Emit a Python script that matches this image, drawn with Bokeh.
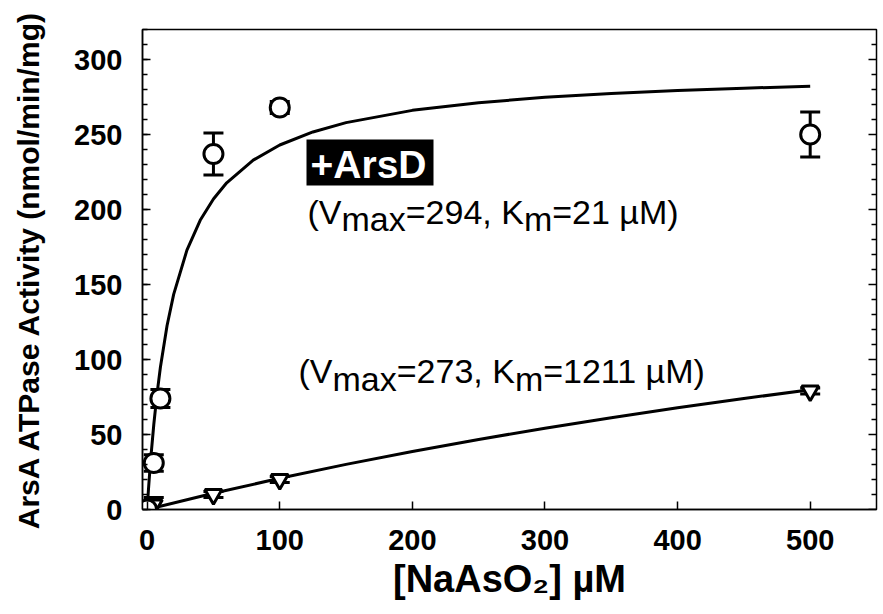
import math
from bokeh.plotting import figure
from bokeh.models import (ColumnDataSource, Whisker, TeeHead, Label, BoxAnnotation,
                          SingleIntervalTicker, Range1d)
from bokeh.embed import file_html
from bokeh.resources import INLINE

# ---------------- data ----------------
conc_arsd = [0, 5, 10, 50, 100, 500]
act_arsd = [0, 31, 74, 237, 268, 250]
err_arsd = [0, 5.5, 6, 14, 4, 15]

conc_noarsd = [0, 5, 50, 100, 500]
act_noarsd = [0, 3, 10, 20, 79]
err_noarsd = [0, 5, 2, 2, 2]

fit_x_arsd = [0, 1, 2, 3, 5, 7.5, 10, 15, 20, 30, 40, 50, 60, 80, 100, 125, 150,
              200, 250, 300, 350, 400, 450, 500]
fit_y_arsd = [0, 13.4, 25.6, 36.8, 56.5, 77.4, 94.8, 122.5, 143.4, 172.9, 192.8,
              207.0, 217.8, 232.9, 243.0, 251.7, 257.9, 266.1, 271.2, 274.8,
              277.4, 279.3, 280.9, 282.1]
fit_x_noarsd = [0, 50, 100, 150, 200, 250, 300, 350, 400, 450, 500]
fit_y_noarsd = [0, 10.8, 20.8, 30.1, 38.7, 46.7, 54.2, 61.2, 67.8, 74.0, 79.8]

x_tick_step = 100
y_tick_step = 50
y_major_ticks = [0, 50, 100, 150, 200, 250, 300]
y_minor_ticks = [10, 20, 30, 40, 60, 70, 80, 90, 110, 120, 130, 140, 160, 170, 180, 190,
                 210, 220, 230, 240, 260, 270, 280, 290, 310]

arsd_tag = "+ArsD"
fit_text_arsd = [("(V", False), ("max", True), ("=294, K", False), ("m", True), ("=21 µM)", False)]
fit_text_noarsd = [("(V", False), ("max", True), ("=273, K", False), ("m", True), ("=1211 µM)", False)]
x_title = "[NaAsO\u2082] µM"
y_title = "ArsA ATPase Activity (nmol/min/mg)"

FONT = "Liberation Sans"

# ---------------- figure ----------------
X0, X1 = -3.5, 550
Y0, Y1 = 0, 320
W, H = 883, 614
ML, MR, MT, MB = 142, 7, 29, 105

p = figure(width=W, height=H, x_range=Range1d(X0, X1), y_range=Range1d(Y0, Y1),
           output_backend="svg", toolbar_location=None,
           min_border_left=ML, min_border_right=MR, min_border_top=MT, min_border_bottom=MB)
p.grid.visible = False
p.outline_line_color = "black"
p.outline_line_width = 1.5
p.background_fill_color = "white"
p.border_fill_color = "white"

xa = p.xaxis[0]
xa.ticker = SingleIntervalTicker(interval=x_tick_step, num_minor_ticks=0)
ya = p.yaxis[0]
ya.ticker = SingleIntervalTicker(interval=y_tick_step, num_minor_ticks=5)
for ax in (xa, ya):
    ax.axis_line_color = "black"
    ax.axis_line_width = 1.5
    ax.major_tick_in = 8
    ax.major_tick_out = 0
    ax.minor_tick_in = 5
    ax.minor_tick_out = 0
    ax.major_tick_line_width = 1.5
    ax.minor_tick_line_width = 1.5
    ax.major_label_text_font = FONT
    ax.major_label_text_font_style = "bold"
    ax.major_label_text_font_size = "29px"
    ax.major_label_text_color = "black"
    ax.major_label_standoff = 20
    ax.axis_label_text_font = FONT
    ax.axis_label_text_font_style = "bold"
    ax.axis_label_text_color = "black"
xa.minor_tick_line_color = None
xa.axis_label = x_title
xa.axis_label_text_font_size = "38px"
xa.axis_label_standoff = 5
ya.axis_label = y_title
ya.axis_label_text_font_size = "30px"
ya.axis_label_standoff = 26

# right-hand inward ticks (dash markers centred on the right frame edge; outer half clipped)
p.scatter([X1] * len(y_major_ticks), y_major_ticks, marker="dash", size=16,
          line_color="black", line_width=1.5)
p.scatter([X1] * len(y_minor_ticks), y_minor_ticks, marker="dash", size=10,
          line_color="black", line_width=1.5)

# ---------------- fit curves ----------------
p.line(fit_x_arsd, fit_y_arsd, line_color="black", line_width=3)
p.line(fit_x_noarsd, fit_y_noarsd, line_color="black", line_width=3)

# ---------------- error bars ----------------
def whisk(xs, ys, es):
    keep = [i for i, e in enumerate(es) if e > 0]
    src = ColumnDataSource(dict(
        x=[xs[i] for i in keep],
        lower=[ys[i] - es[i] for i in keep],
        upper=[ys[i] + es[i] for i in keep]))
    w = Whisker(source=src, base="x", lower="lower", upper="upper",
                line_color="black", line_width=3, level="underlay",
                upper_head=TeeHead(size=20, line_width=3, line_color="black"),
                lower_head=TeeHead(size=20, line_width=3, line_color="black"))
    p.add_layout(w)

whisk(conc_arsd, act_arsd, err_arsd)
whisk(conc_noarsd, act_noarsd, err_noarsd)

# ---------------- markers ----------------
p.scatter(conc_noarsd, act_noarsd, marker="inverted_triangle", size=17,
          fill_color="white", line_color="black", line_width=3)
p.scatter(conc_arsd, act_arsd, marker="circle", size=19,
          fill_color="white", line_color="black", line_width=3)

# ---------------- text helpers (positions taken from the reference layout) ----------------
FX0, FX1, FY0, FY1 = 142, 876, 29, 509  # frame edges in page pixels
BASE_FIX = 12  # rendering offset of the alphabetic baseline


def px_x(px):
    return X0 + (px - FX0) / (FX1 - FX0) * (X1 - X0)


def px_y(py):
    return Y0 + (FY1 - py) / (FY1 - FY0) * (Y1 - Y0)


W_REG = {'(': 333, ')': 333, 'V': 667, 'm': 833, 'a': 556, 'x': 500, '=': 584,
         ',': 278, ' ': 278, 'K': 667, 'µ': 576, 'M': 833}


def text_w(t, size):
    return sum(W_REG.get(c, 556) for c in t) * size / 1000.0


def rich(pieces, left_px, base_px, size, sub_drop):
    cur = left_px
    for t, s in pieces:
        p.add_layout(Label(x=px_x(cur), y=px_y(base_px - BASE_FIX + (sub_drop if s else 0)),
                           text=t, text_font=FONT, text_font_size=f"{size}px",
                           text_color="black", text_align="left",
                           text_baseline="alphabetic"))
        cur += text_w(t, size)


# +ArsD tag on black box
p.add_layout(BoxAnnotation(left=px_x(306), right=px_x(433), top=px_y(139), bottom=px_y(185),
                           fill_color="black", fill_alpha=1.0, line_color=None))
p.add_layout(Label(x=px_x(368), y=px_y(176 - BASE_FIX), text=arsd_tag, text_font=FONT,
                   text_font_size="39px", text_font_style="bold", text_color="white",
                   text_align="center", text_baseline="alphabetic"))

rich(fit_text_arsd, 307, 223, 34, 7)
rich(fit_text_noarsd, 298, 382, 34, 8)

open("out.html", "w").write(file_html(p, INLINE))
